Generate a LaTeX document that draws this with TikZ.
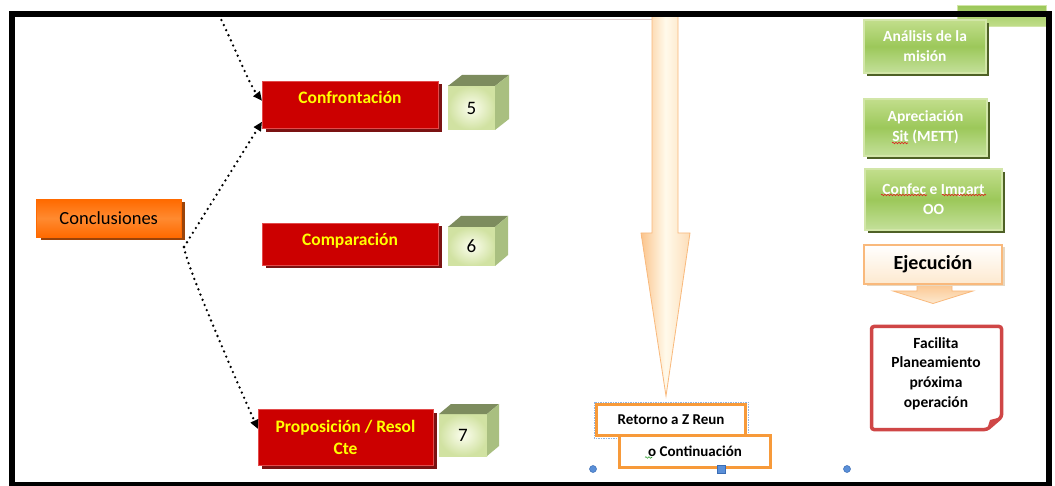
\documentclass[tikz,border=0pt]{standalone}
\usepackage{fontspec}
\setmainfont{Carlito}
\usetikzlibrary{shadows,arrows.meta,decorations.pathmorphing}

\definecolor{redfill}{HTML}{CC0000}
\definecolor{redrim}{HTML}{E24B4B}
\definecolor{redshade}{HTML}{7A1212}
\definecolor{orangefill}{HTML}{FF6A00}
\definecolor{orangemid}{HTML}{FF8A30}
\definecolor{orangeshade}{HTML}{9A4309}
\definecolor{greenedge}{HTML}{D2E6A8}
\definecolor{greentop}{HTML}{C2DE8C}
\definecolor{greenmid}{HTML}{9CC85A}
\definecolor{greenbot}{HTML}{C4E09A}
\definecolor{greenshade}{HTML}{4E6126}
\definecolor{cubetopc}{HTML}{7D8C5E}
\definecolor{cubeside}{HTML}{A9BF80}
\definecolor{cubein}{HTML}{FCFEEF}
\definecolor{cubeout}{HTML}{D1E2A2}
\definecolor{peach}{HTML}{FBC48C}
\definecolor{peachlight}{HTML}{FDDDB8}
\definecolor{cream}{HTML}{FFFAEB}
\definecolor{peachedge}{HTML}{F9B97C}
\definecolor{ejbottom}{HTML}{FDE9CF}
\definecolor{ejshade}{HTML}{E8D7BF}
\definecolor{notered}{HTML}{CF4646}
\definecolor{tabline}{HTML}{F79A3A}
\definecolor{selblue}{HTML}{8EB4E3}
\definecolor{handleblue}{HTML}{5A8FD8}
\definecolor{handleedge}{HTML}{3A6DB5}
\definecolor{titleyellow}{HTML}{FFFF00}
\definecolor{spellred}{HTML}{E02020}
\definecolor{spellgreen}{HTML}{30A030}
\definecolor{faintline}{HTML}{DCCBCB}

% numbered cube: name, front top-left (x,y), width, height, depth (dx,dy), digit
\newcommand{\numcube}[8]{%
  \node[cubefront, minimum width=#4pt, minimum height=#5pt, anchor=north west] (#1) at (#2,#3) {#8};
  \fill[cubetopc] (#1.north west) -- ++(#6,-#7) -- ++(#4,0) -- (#1.north east) -- cycle;
  \fill[cubeside] (#1.north east) -- ++(#6,-#7) -- ++(0,#5) -- (#1.south east) -- cycle;
}

\begin{document}
\begin{tikzpicture}[x=1pt,y=-1pt,
  every node/.style={inner sep=0pt, outer sep=0pt},
  redbox/.style={draw=redrim, line width=0.8pt, fill=redfill, minimum width=176pt,
    text=titleyellow, align=center, font=\bfseries\fontsize{17.5}{22}\selectfont,
    general shadow={fill=redshade, shadow xshift=3.5pt, shadow yshift=-3.5pt}},
  orangebox/.style={draw=orangefill, line width=0.8pt, top color=orangefill, bottom color=orangefill,
    middle color=orangemid, font=\fontsize{18.5}{20}\selectfont,
    general shadow={fill=orangeshade, shadow xshift=4pt, shadow yshift=-3pt}},
  greenbox/.style={draw=greenedge, line width=1.2pt, top color=greentop, bottom color=greenbot,
    middle color=greenmid, text=white, align=center, font=\bfseries\fontsize{15.5}{20}\selectfont,
    general shadow={fill=greenshade, shadow xshift=3pt, shadow yshift=-3pt}},
  cubefront/.style={inner color=cubein, outer color=cubeout, font=\fontsize{19}{19}\selectfont},
  ejbox/.style={draw=peachedge, line width=1.2pt, top color=white, bottom color=ejbottom,
    font=\bfseries\fontsize{20}{22}\selectfont,
    general shadow={fill=ejshade, shadow xshift=2.5pt, shadow yshift=-2.5pt}},
  tabbox/.style={draw=tabline, line width=3pt, fill=white, font=\bfseries\fontsize{15}{18}\selectfont},
  dotarrow/.style={line width=2.6pt, dash pattern=on 0pt off 5.6pt, line cap=round,
    -{Triangle[length=9pt,width=8pt]}},
  spell/.style={decorate, decoration={snake, amplitude=0.8pt, segment length=3pt}, line width=0.6pt},
  handle/.style={fill=handleblue, draw=handleedge, line width=0.5pt}
]
\useasboundingbox (0,0) rectangle (1055,486);
\fill[white] (0,0) rectangle (1055,486);

% green tab behind the top-right corner
\path[draw=greenedge, line width=1pt, top color=greenmid, bottom color=greentop] (957,6) rectangle (1046,27);

% faint line under the top edge
\draw[faintline, line width=1.2pt] (380,19.5) -- (653,19.5);

% long descending arrow
\path[draw=peachedge, line width=0.8pt, left color=peach, right color=peachlight, middle color=cream]
  (652,14) -- (652,233) -- (641,233) -- (666,396) -- (690,233) -- (678,233) -- (678,14) -- cycle;

% left column
\node[orangebox, minimum width=144.5pt, minimum height=37.5pt] (concl) at (108.75,218.25) {Conclusiones};

\node[redbox, minimum height=47.5pt, text height=12pt, text depth=14pt] (conf) at (350,104.75) {Confrontación};
\node[redbox, minimum height=42pt, text height=12pt, text depth=8pt] (comp) at (350,244) {Comparación};
\node[redbox, minimum width=175pt, minimum height=56pt] (prop) at (345.5,437) {Proposición / Resol\\Cte};

\numcube{c5}{448}{86}{47}{44}{14}{11}{5}
\numcube{c6}{448}{227}{47}{39}{13}{11}{6}
\numcube{c7}{439}{414}{48}{42}{12}{10}{7}

% dotted connectors
\coordinate (topin) at (219,15);
\coordinate (fork) at (184,247);
\draw[dotarrow] (topin) .. controls (236,50) and (249,84) .. ([yshift=4pt]conf.west);
\draw[dotarrow] (fork) -- ([yshift=-17pt]conf.west);
\draw[dotarrow] (fork) .. controls (186,265) and (236,380) .. ([yshift=8pt]prop.west);

% right column
\node[greenbox, minimum width=122pt, minimum height=53pt] (mision) at (925,46.5) {Análisis de la\\misión};
\node[greenbox, minimum width=123pt, minimum height=57pt] (aprec) at (925.5,127.5) {Apreciación\\Sit (METT)};
\node[greenbox, minimum width=137pt, minimum height=61pt] (confec) at (933.5,199.5) {Confec e Impart\\OO};
\draw[spellred, spell] (892,143) -- (908,143);
\draw[spellred, spell] (881,195) -- (927,195);
\draw[spellred, spell] (942,195) -- (986,195);

% Ejecución callout
\path[draw=peachedge, line width=0.8pt, top color=peach, bottom color=ejbottom]
  (917,283) -- (917,291) -- (893,291) -- (933,303.5) -- (973,291) -- (952,291) -- (952,283) -- cycle;
\node[ejbox, minimum width=138pt, minimum height=39pt] (ejec) at (933,264.5) {Ejecución};

% note with folded corner
\draw[notered, line width=3.5pt, fill=white, rounded corners=2.5pt]
  (871.5,326.5) -- (1001.5,326.5) -- (1001.5,417) -- (987,429.5) -- (871.5,429.5) -- cycle;
\fill[notered] (987,429.5) -- (1001.5,417) -- (990,420) -- cycle;
\node[align=center, font=\bfseries\fontsize{15.5}{19.6}\selectfont] (facil) at (936,373.5)
  {Facilita\\Planeamiento\\próxima\\operación};

% return / continuation boxes
\node[tabbox, minimum width=149pt, minimum height=31pt] (ret) at (671,420) {Retorno a Z Reun};
\draw[selblue, line width=0.6pt, dash pattern=on 1.5pt off 1pt] (594,402) rectangle (748,438);
\node[tabbox, minimum width=151pt, minimum height=32pt] (cont) at (695,451.5) {o Continuación};
\draw[spellgreen, spell] (645,457.5) -- (652,457.5);

% selection handles
\node[handle, circle, minimum size=7pt] (hleft) at (593,469) {};
\node[handle, minimum size=7.5pt] (hmid) at (721,469) {};
\node[handle, circle, minimum size=7pt] (hright) at (847,469) {};

% outer frame
\draw[line width=6pt] (11.5,14) rectangle (1049,484.5);
\end{tikzpicture}
\end{document}
